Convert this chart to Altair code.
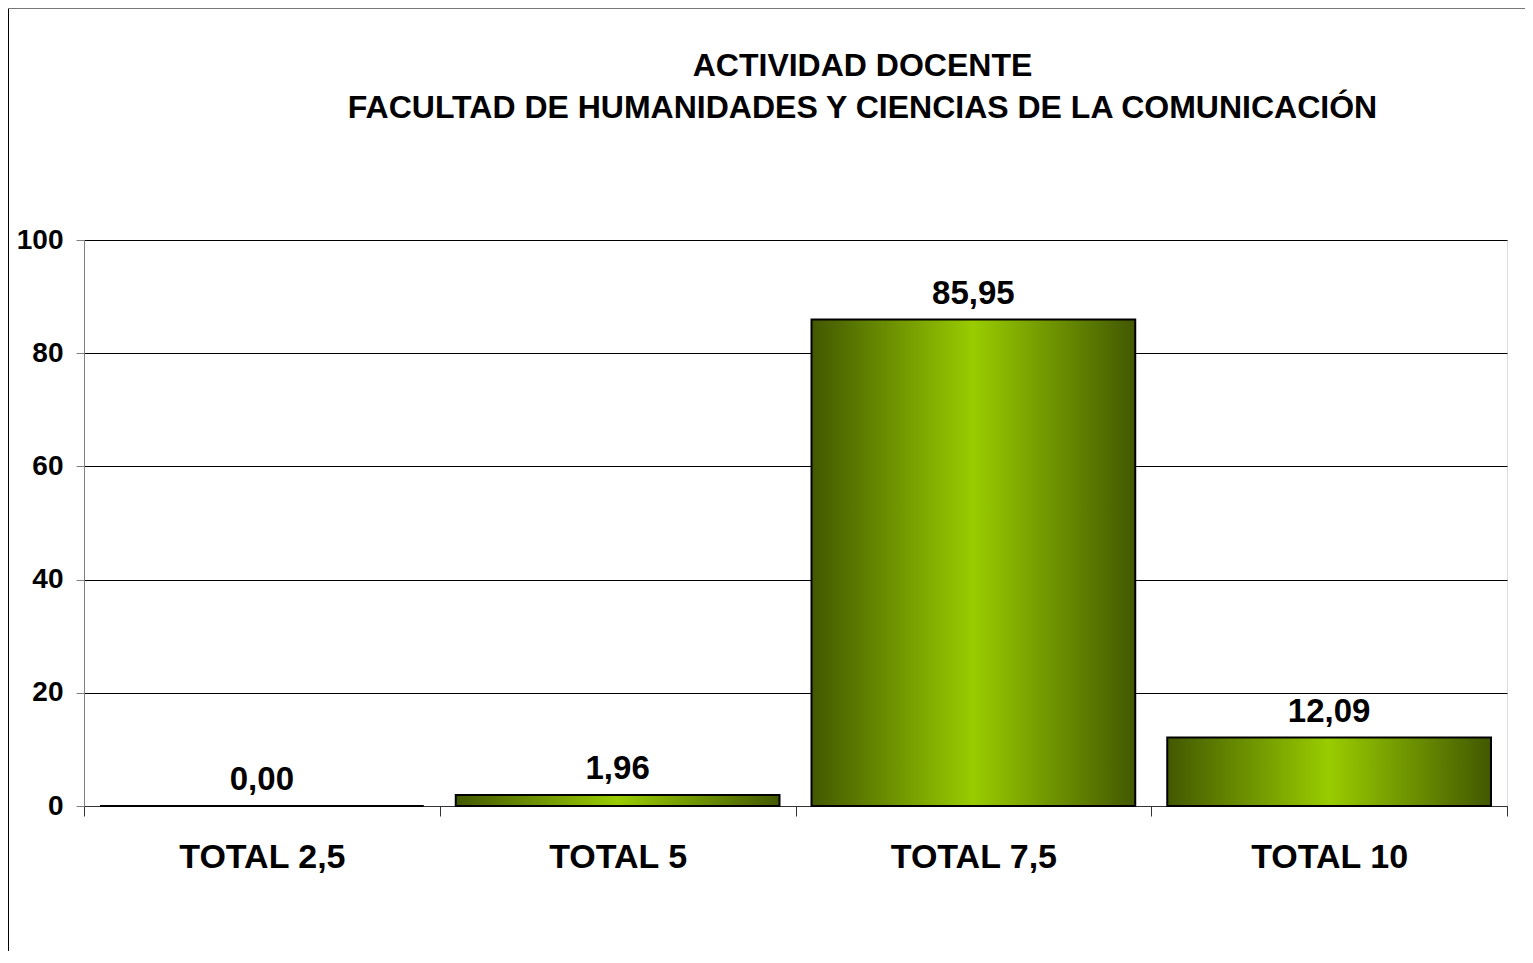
import altair as alt
import pandas as pd

categories = ["TOTAL 2,5", "TOTAL 5", "TOTAL 7,5", "TOTAL 10"]
values = [0.00, 1.96, 85.95, 12.09]
labels = ["0,00", "1,96", "85,95", "12,09"]
title_lines = ["ACTIVIDAD DOCENTE", "FACULTAD DE HUMANIDADES Y CIENCIAS DE LA COMUNICACIÓN"]

df = pd.DataFrame({"cat": categories, "val": values, "lab": labels})

FONT = "Liberation Sans"
W, H = 1423, 566

grad = alt.LinearGradient(
    gradient="linear",
    x1=0, x2=1, y1=0, y2=0,
    stops=[
        alt.GradientStop(offset=0, color="#425800"),
        alt.GradientStop(offset=0.5, color="#99cc00"),
        alt.GradientStop(offset=1, color="#425800"),
    ],
)

x_enc = alt.X("cat:N", sort=categories,
              scale=alt.Scale(paddingInner=0, paddingOuter=0),
              axis=alt.Axis(title=None, labelAngle=0, labelFont=FONT, labelFontSize=34,
                            labelFontWeight="bold", labelColor="black", labelPadding=24,
                            tickBand="extent", tickSize=10, tickColor="#333333",
                            domainColor="#333333", grid=False))
y_enc = alt.Y("val:Q", scale=alt.Scale(domain=[0, 100], nice=False),
              axis=alt.Axis(title=None, values=[0, 20, 40, 60, 80, 100], labelFont=FONT,
                            labelFontSize=28, labelFontWeight="bold", labelColor="black",
                            labelPadding=13, tickSize=8, tickColor="#808080",
                            domainColor="#808080", gridColor="black", gridWidth=1))

bars = alt.Chart(df).mark_bar(color=grad, stroke="black", strokeWidth=2,
                              width=alt.RelativeBandSize(0.91)).encode(x=x_enc, y=y_enc)

text = alt.Chart(df).mark_text(font=FONT, fontSize=33, fontWeight="bold", color="black",
                               baseline="alphabetic", dy=-16).encode(
    x=alt.X("cat:N", sort=categories), y="val:Q", text="lab:N")

frame_data = alt.Data(values=[{"k": 1}])
left_line = alt.Chart(frame_data).mark_rule(color="black", strokeWidth=1).encode(
    x=alt.value(-75.5), y=alt.value(-231.5), y2=alt.value(H + 200))
top_line = alt.Chart(frame_data).mark_rule(color="#777777", strokeWidth=1).encode(
    x=alt.value(-75.5), x2=alt.value(W + 40), y=alt.value(-231.5))

chart = alt.layer(bars, text, left_line, top_line).properties(
    width=W, height=H,
    title=alt.TitleParams(text=title_lines, font=FONT, fontSize=32, fontWeight="bold",
                          color="black", anchor="middle", dx=67, offset=-117,
                          baseline="top", lineHeight=42),
    autosize=alt.AutoSizeParams(type="none"),
    padding={"left": 76, "top": 232, "right": 18, "bottom": 145},
).configure_view(stroke="#808080", strokeWidth=2).configure(background="white")

chart.save("out.html", embed_options={"renderer": "svg", "actions": False})
